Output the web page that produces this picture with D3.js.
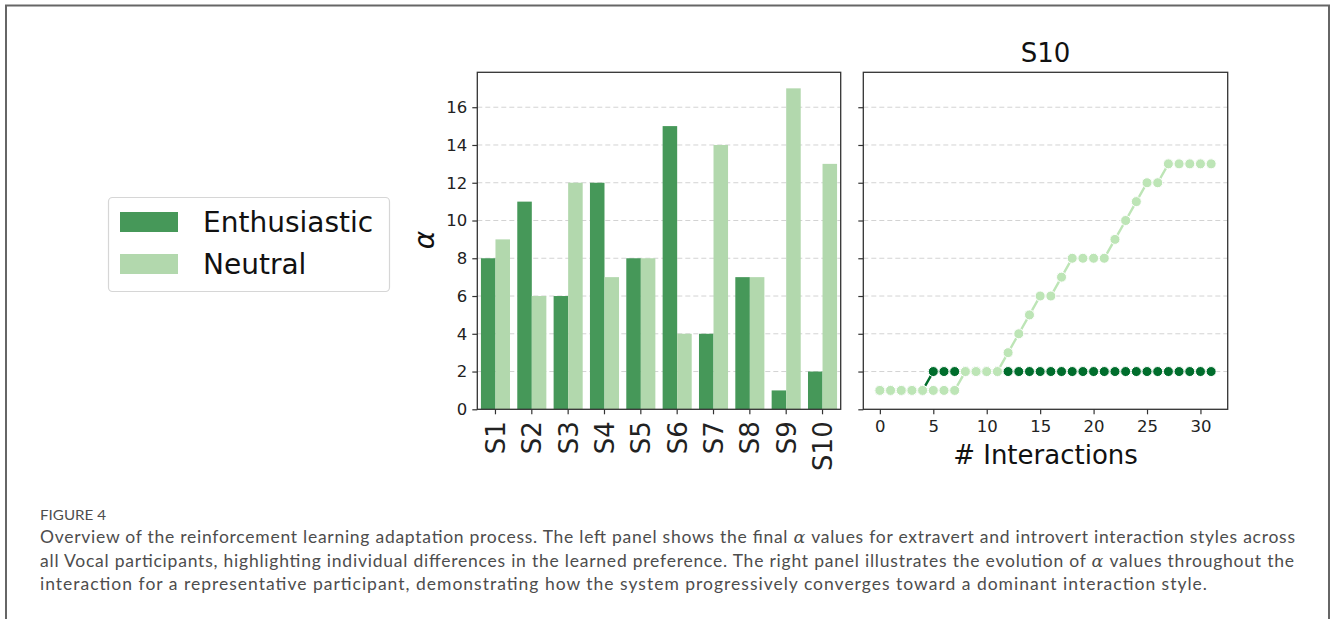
<!DOCTYPE html>
<html>
<head>
<meta charset="utf-8">
<script src="https://cdn.jsdelivr.net/npm/d3@7"></script>
<style>
  body { margin: 0; background: #fff; }
  svg { display: block; }
  .tick text { font-family: "DejaVu Sans", sans-serif; fill: #222; }
  .tick line { stroke: #333; stroke-width: 1.2; }
</style>
</head>
<body>
<div id="chart-area"></div>
<script>
// values
var categories = ["S1", "S2", "S3", "S4", "S5", "S6", "S7", "S8", "S9", "S10"]
var enthusiastic = [8, 11, 6, 12, 8, 15, 4, 7, 1, 2]
var neutral = [9, 6, 12, 7, 8, 4, 14, 7, 17, 13]

var interactions = [0, 1, 2, 3, 4, 5, 6, 7, 8, 9, 10, 11, 12, 13, 14, 15,
  16, 17, 18, 19, 20, 21, 22, 23, 24, 25, 26, 27, 28, 29, 30, 31]
var s10Enthusiastic = [1, 1, 1, 1, 1, 2, 2, 2, 2, 2, 2, 2, 2, 2, 2, 2,
  2, 2, 2, 2, 2, 2, 2, 2, 2, 2, 2, 2, 2, 2, 2, 2]
var s10Neutral = [1, 1, 1, 1, 1, 1, 1, 1, 2, 2, 2, 2, 3, 4, 5, 6,
  6, 7, 8, 8, 8, 8, 9, 10, 11, 12, 12, 13, 13, 13, 13, 13]

var yTicks = [0, 2, 4, 6, 8, 10, 12, 14, 16]
var xTicksRight = [0, 5, 10, 15, 20, 25, 30]
var seriesNames = ["Enthusiastic", "Neutral"]

var captionLines = [
  "Overview of the reinforcement learning adaptation process. The left panel shows the final |α| values for extravert and introvert interaction styles across",
  "all Vocal participants, highlighting individual differences in the learned preference. The right panel illustrates the evolution of |α| values throughout the",
  "interaction for a representative participant, demonstrating how the system progressively converges toward a dominant interaction style."
]

var barColors = ["#469859", "#b2d8ad"]
var lineColors = ["#006d2c", "#bde5b6"]

var W = 1330, H = 619

var svg = d3.select("#chart-area").append("svg")
    .attr("width", W)
    .attr("height", H)

// page frame
svg.append("path")
  .attr("d", "M6,619 V5.5 H1329 V619")
  .attr("fill", "none")
  .attr("stroke", "#666")
  .attr("stroke-width", 2)

var plotTop = 72.3, plotBottom = 409.3

var y = d3.scaleLinear()
    .domain([0, 17.85])
    .range([plotBottom, plotTop])

// ---------- left panel: bars ----------
var leftL = 477.3, leftR = 840.7

var x = d3.scaleBand()
    .domain(categories)
    .range([leftL, leftR])
    .padding(0)

var left = svg.append("g")

left.selectAll(".grid")
  .data(yTicks.slice(1))
  .enter().append("line")
    .attr("x1", leftL).attr("x2", leftR)
    .attr("y1", function(d) { return y(d) })
    .attr("y2", function(d) { return y(d) })
    .attr("stroke", "#d3d3d3")
    .attr("stroke-dasharray", "5,3")

var bw = x.bandwidth() * 0.4

left.selectAll(".bar-e")
  .data(enthusiastic)
  .enter().append("rect")
    .attr("x", function(d, i) { return x(categories[i]) + x.bandwidth() / 2 - bw })
    .attr("y", function(d) { return y(d) })
    .attr("width", bw)
    .attr("height", function(d) { return y(0) - y(d) })
    .attr("fill", barColors[0])

left.selectAll(".bar-n")
  .data(neutral)
  .enter().append("rect")
    .attr("x", function(d, i) { return x(categories[i]) + x.bandwidth() / 2 })
    .attr("y", function(d) { return y(d) })
    .attr("width", bw)
    .attr("height", function(d) { return y(0) - y(d) })
    .attr("fill", barColors[1])

left.append("g")
  .attr("transform", "translate(" + leftL + ",0)")
  .call(d3.axisLeft(y).tickValues(yTicks).tickSize(5).tickPadding(5))
  .call(function(g) { g.select(".domain").remove() })
  .selectAll("text")
    .attr("font-size", "16.5px")

left.append("g")
  .attr("transform", "translate(0," + plotBottom + ")")
  .call(d3.axisBottom(x).tickSize(5))
  .call(function(g) { g.select(".domain").remove() })
  .selectAll("text")
    .attr("font-size", "26px")
    .attr("text-anchor", "end")
    .attr("transform", "rotate(-90)")
    .attr("x", -12)
    .attr("y", 0)
    .attr("dy", "0.36em")

left.append("rect")
  .attr("x", leftL).attr("y", plotTop)
  .attr("width", leftR - leftL).attr("height", plotBottom - plotTop)
  .attr("fill", "none")
  .attr("stroke", "#333")
  .attr("stroke-width", 1.3)

left.append("text")
  .attr("transform", "translate(434,240) rotate(-90)")
  .attr("text-anchor", "middle")
  .attr("font-family", "DejaVu Sans, sans-serif")
  .attr("font-style", "italic")
  .attr("font-size", "28px")
  .attr("fill", "#111")
  .text("α")

// ---------- right panel: S10 over time ----------
var rightL = 863.3, rightR = 1227.7

var x2 = d3.scaleLinear()
    .domain([-1.55, 32.55])
    .range([rightL, rightR])

var right = svg.append("g")

right.selectAll(".grid")
  .data(yTicks.slice(1))
  .enter().append("line")
    .attr("x1", rightL).attr("x2", rightR)
    .attr("y1", function(d) { return y(d) })
    .attr("y2", function(d) { return y(d) })
    .attr("stroke", "#d3d3d3")
    .attr("stroke-dasharray", "5,3")

var series = [s10Enthusiastic, s10Neutral]

var line = d3.line()
    .x(function(d, i) { return x2(interactions[i]) })
    .y(function(d) { return y(d) })

series.forEach(function(vals, k) {
  right.append("path")
    .attr("d", line(vals))
    .attr("fill", "none")
    .attr("stroke", lineColors[k])
    .attr("stroke-width", 2.4)

  right.selectAll(".dot" + k)
    .data(vals)
    .enter().append("circle")
      .attr("cx", function(d, i) { return x2(interactions[i]) })
      .attr("cy", function(d) { return y(d) })
      .attr("r", 5)
      .attr("fill", lineColors[k])
      .attr("stroke", "#fff")
      .attr("stroke-width", 1)
})

right.append("g")
  .attr("transform", "translate(" + rightL + ",0)")
  .call(d3.axisLeft(y).tickValues(yTicks).tickSize(5).tickFormat(""))
  .call(function(g) { g.select(".domain").remove() })

right.append("g")
  .attr("transform", "translate(0," + plotBottom + ")")
  .call(d3.axisBottom(x2).tickValues(xTicksRight).tickSize(5).tickPadding(6))
  .call(function(g) { g.select(".domain").remove() })
  .selectAll("text")
    .attr("font-size", "16.5px")

right.append("rect")
  .attr("x", rightL).attr("y", plotTop)
  .attr("width", rightR - rightL).attr("height", plotBottom - plotTop)
  .attr("fill", "none")
  .attr("stroke", "#333")
  .attr("stroke-width", 1.3)

right.append("text")
  .attr("x", (rightL + rightR) / 2)
  .attr("y", 62)
  .attr("text-anchor", "middle")
  .attr("font-family", "DejaVu Sans, sans-serif")
  .attr("font-size", "26px")
  .attr("fill", "#111")
  .text("S10")

right.append("text")
  .attr("x", (rightL + rightR) / 2)
  .attr("y", 464)
  .attr("text-anchor", "middle")
  .attr("font-family", "DejaVu Sans, sans-serif")
  .attr("font-size", "26px")
  .attr("fill", "#111")
  .text("# Interactions")

// ---------- legend ----------
var legend = svg.append("g")

legend.append("rect")
  .attr("x", 108.5).attr("y", 197.5)
  .attr("width", 281).attr("height", 94)
  .attr("rx", 4)
  .attr("fill", "#fff")
  .attr("stroke", "#d6d6d6")
  .attr("stroke-width", 1.2)

seriesNames.forEach(function(name, i) {
  legend.append("rect")
    .attr("x", 120).attr("y", 212 + i * 42)
    .attr("width", 58).attr("height", 20)
    .attr("fill", barColors[i])
  legend.append("text")
    .attr("x", 203).attr("y", 232 + i * 42)
    .attr("font-family", "DejaVu Sans, sans-serif")
    .attr("font-size", "28px")
    .attr("fill", "#111")
    .text(name)
})

// ---------- caption ----------
var cap = svg.append("g")
  .attr("font-family", "Lato, 'Open Sans', sans-serif")
  .attr("fill", "#4d4d4d")

cap.append("text")
  .attr("x", 40).attr("y", 520)
  .attr("font-size", "14px")
  .attr("textLength", 66)
  .attr("lengthAdjust", "spacingAndGlyphs")
  .text("FIGURE 4")

var capEnds = [1295, 1294, 1207]

captionLines.forEach(function(s, i) {
  var t = cap.append("text")
    .attr("x", 40).attr("y", 543 + i * 23.5)
    .attr("font-size", "17.5px")
    .attr("textLength", capEnds[i] - 40)
    .attr("lengthAdjust", "spacing")
  s.split("|").forEach(function(part) {
    var ts = t.append("tspan").text(part)
    if (part === "α") {
      ts.attr("font-family", "'DejaVu Serif', serif").attr("font-style", "italic")
    }
  })
})
</script>
</body>
</html>
